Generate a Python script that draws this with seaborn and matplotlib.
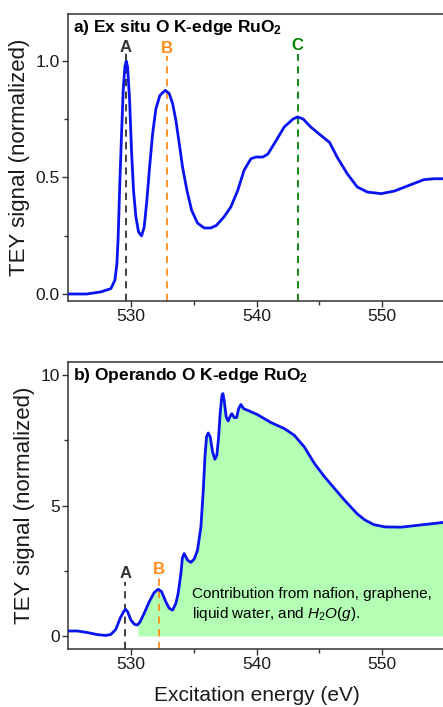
import matplotlib
matplotlib.use("Agg")
import matplotlib.pyplot as plt
import seaborn as sns
import pandas as pd
import numpy as np

# ---- data: panel a (ex situ) ----
exsitu_energy = [525.0, 526.5, 527.61, 528.41, 528.73, 528.89, 528.99, 529.12, 529.26, 529.39,
                 529.52, 529.63, 529.74, 529.9, 530.05, 530.21, 530.4, 530.61, 530.85, 531.06,
                 531.27, 531.49, 531.73, 531.99, 532.31, 532.73, 533.05, 533.32, 533.58, 533.85,
                 534.11, 534.46, 534.83, 535.3, 535.83, 536.36, 536.8, 537.4, 537.95, 538.5,
                 539.0, 539.55, 539.95, 540.5, 540.9, 541.4, 542.2, 542.9, 543.26, 543.7,
                 544.3, 545.1, 545.8, 546.4, 547.2, 548.0, 548.8, 549.9, 550.95, 552.0,
                 553.3, 554.1, 555.0]
exsitu_signal = [0.0, 0.0, 0.009, 0.023, 0.059, 0.13, 0.244, 0.473, 0.687, 0.873,
                 0.973, 0.998, 0.973, 0.83, 0.616, 0.444, 0.33, 0.266, 0.249, 0.287,
                 0.40, 0.544, 0.687, 0.794, 0.851, 0.873, 0.859, 0.816, 0.744, 0.644,
                 0.544, 0.444, 0.359, 0.304, 0.283, 0.283, 0.294, 0.33, 0.373, 0.444,
                 0.53, 0.58, 0.587, 0.587, 0.60, 0.644, 0.716, 0.75, 0.759, 0.75,
                 0.716, 0.68, 0.65, 0.587, 0.516, 0.459, 0.437, 0.43, 0.441, 0.463,
                 0.49, 0.494, 0.494]

# ---- data: panel b (operando) ----
operando_energy = [525.0, 525.76, 526.55, 527.35, 528.0, 528.41, 528.8, 529.15, 529.42, 529.58,
                   529.74, 530.0, 530.27, 530.48, 530.55, 530.74, 531.06, 531.46, 531.85, 532.17,
                   532.44, 532.78, 533.05, 533.32, 533.58, 533.76, 533.98, 534.1, 534.24, 534.5,
                   534.77, 535.04, 535.3, 535.57, 535.76, 535.89, 536.02, 536.15, 536.31, 536.5,
                   536.68, 536.84, 536.98, 537.1, 537.24, 537.32, 537.42, 537.58, 537.74, 537.9,
                   538.03, 538.22, 538.41, 538.57, 538.75, 538.97, 539.28, 540.08, 541.14, 542.2,
                   543.0, 543.8, 544.6, 545.4, 546.2, 547.0, 548.0, 548.6, 549.3, 550.2,
                   551.5, 552.8, 554.1, 555.0]
operando_signal = [0.19, 0.19, 0.13, 0.05, 0.02, 0.06, 0.25, 0.68, 0.93, 1.02,
                   0.93, 0.61, 0.45, 0.42, 0.43, 0.55, 0.87, 1.31, 1.66, 1.79,
                   1.70, 1.31, 1.06, 0.99, 1.25, 1.63, 2.40, 3.0, 3.16, 2.91,
                   2.82, 2.95, 3.29, 4.18, 5.59, 6.86, 7.63, 7.78, 7.63, 7.05,
                   6.77, 6.93, 7.63, 8.52, 9.22, 9.29, 9.03, 8.39, 8.24, 8.42,
                   8.52, 8.37, 8.37, 8.71, 8.87, 8.71, 8.65, 8.48, 8.18, 7.95,
                   7.69, 7.24, 6.61, 6.10, 5.65, 5.20, 4.68, 4.45, 4.27, 4.18,
                   4.17, 4.24, 4.31, 4.36]

# ---- peak markers ----
exsitu_peak_labels = ["A", "B", "C"]
exsitu_peak_pos = [529.6, 532.84, 543.26]
exsitu_peak_top = [1.04, 1.02, 1.03]
exsitu_label_y = [1.055, 1.053, 1.066]
operando_peak_labels = ["A", "B"]
operando_peak_pos = [529.55, 532.2]
operando_peak_top = [2.05, 2.3]
operando_label_y = [2.4, 2.55]
fill_start = 530.55

peak_colors = {"A": "#333333", "B": "#ff8c1a", "C": "#008000"}

sns.set_theme(style="ticks")
plt.rcParams["font.family"] = ["Liberation Sans", "DejaVu Sans"]
plt.rcParams["mathtext.fontset"] = "custom"
plt.rcParams["mathtext.rm"] = "Liberation Sans"
plt.rcParams["mathtext.it"] = "Liberation Sans:italic"
plt.rcParams["mathtext.bf"] = "Liberation Sans:bold"
plt.rcParams["text.color"] = "black"
plt.rcParams["axes.labelcolor"] = "#1a1a1a"
plt.rcParams["xtick.labelcolor"] = "#1a1a1a"
plt.rcParams["ytick.labelcolor"] = "#1a1a1a"

W, H = 443, 707
fig = plt.figure(figsize=(W / 100, H / 100), dpi=100)
left = 68 / W
width = 1.005 - left
ax1 = fig.add_axes([left, 1 - 301 / H, width, (301 - 14) / H])
ax2 = fig.add_axes([left, 1 - 649 / H, width, (649 - 362) / H])

df_a = pd.DataFrame({"energy": exsitu_energy, "signal": exsitu_signal})
df_b = pd.DataFrame({"energy": operando_energy, "signal": operando_signal})

# panel b fill
eb = np.array(operando_energy)
sb = np.array(operando_signal)
mask = eb >= fill_start
ax2.fill_between(eb[mask], 0, sb[mask], color="#b3ffb3", lw=0, zorder=1)

sns.lineplot(data=df_a, x="energy", y="signal", ax=ax1, color="#0a14f0", lw=2, zorder=3)
sns.lineplot(data=df_b, x="energy", y="signal", ax=ax2, color="#0a14f0", lw=2, zorder=3)

for lab, xp, yt, ly in zip(exsitu_peak_labels, exsitu_peak_pos, exsitu_peak_top, exsitu_label_y):
    ax1.plot([xp, xp], [-0.03, yt], ls=(0, (4, 3)), color=peak_colors[lab], lw=1.3, zorder=2)
    ax1.text(xp, ly, lab, ha="center", va="center", fontsize=12, fontweight="bold",
             color=peak_colors[lab])
for lab, xp, yt, ly in zip(operando_peak_labels, operando_peak_pos, operando_peak_top, operando_label_y):
    ax2.plot([xp, xp], [-0.5, yt], ls=(0, (4, 3)), color=peak_colors[lab], lw=1.3, zorder=2)
    ax2.text(xp, ly, lab, ha="center", va="center", fontsize=12, fontweight="bold",
             color=peak_colors[lab])

ax1.set_xlim(525, 555)
ax1.set_ylim(-0.03, 1.2)
ax2.set_xlim(525, 555)
ax2.set_ylim(-0.5, 10.5)

ax1.set_yticks([0.0, 0.5, 1.0])
ax1.set_yticks([0.25, 0.75], minor=True)
ax1.set_yticklabels(["0.0", "0.5", "1.0"])
ax2.set_yticks([0, 5, 10])
ax2.set_yticks([2.5, 7.5], minor=True)
for ax in (ax1, ax2):
    ax.set_xticks([530, 540, 550])
    ax.set_xticks([535, 545], minor=True)
    ax.tick_params(which="both", direction="out", labelsize=12.5, width=1, color="#333333",
                   length=4, pad=2)
    ax.tick_params(which="minor", length=3)
    for s in ax.spines.values():
        s.set_color("#333333")
        s.set_linewidth(1.1)
    ax.set_ylabel("TEY signal (normalized)", fontsize=16, labelpad=4)
    ax.set_xlabel("")

ax2.set_xlabel("Excitation energy (eV)", fontsize=15, labelpad=10)

ax1.text(0.012, 0.985, r"a) Ex situ O K-edge RuO$_\mathbf{2}$", transform=ax1.transAxes,
         ha="left", va="top", fontsize=12.5, fontweight="bold")
ax2.text(0.012, 0.985, r"b) Operando O K-edge RuO$_\mathbf{2}$", transform=ax2.transAxes,
         ha="left", va="top", fontsize=12.5, fontweight="bold")
ax2.text(534.85, 1.2, "Contribution from nafion, graphene,\nliquid water, and $\\mathit{H_2O(g)}$.",
         ha="left", va="center", fontsize=11, linespacing=1.3)

fig.savefig("out.png", dpi=100)
